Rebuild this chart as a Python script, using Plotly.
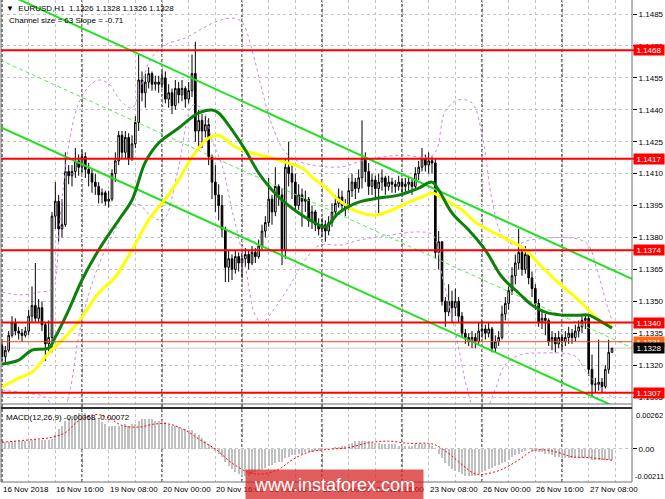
import plotly.graph_objects as go

W, H = 665, 499

def xd(px):
    return px / W

def yd(py):
    return 1 - py / H

# ---------------- data ----------------
bars = list(range(184))
first_open = 1.1329
closes = [1.1324,1.1327,1.1334,1.1340,1.1336,1.1335,1.1334,1.1336,1.1343,1.1348,1.1342,1.1347,1.1339,1.1330,1.1333,1.1390,
          1.1397,1.1384,1.1386,1.1411,1.1409,1.1411,1.1416,1.1413,1.1418,1.1412,1.1410,1.1406,1.1404,1.1400,1.1401,1.1397,
          1.1398,1.1410,1.1416,1.1428,1.1420,1.1427,1.1417,1.1424,1.1434,1.1454,1.1448,1.1453,1.1457,1.1452,1.1453,1.1452,
          1.1455,1.1445,1.1448,1.1442,1.1450,1.1447,1.1450,1.1445,1.1449,1.1457,1.1430,1.1435,1.1430,1.1433,1.1418,1.1406,
          1.1400,1.1395,1.1384,1.1366,1.1370,1.1365,1.1371,1.1368,1.1370,1.1372,1.1368,1.1373,1.1371,1.1376,1.1383,1.1387,
          1.1398,1.1392,1.1404,1.1400,1.1374,1.1413,1.1410,1.1406,1.1395,1.1400,1.1397,1.1398,1.1388,1.1392,1.1386,1.1384,
          1.1386,1.1383,1.1387,1.1392,1.1396,1.1399,1.1395,1.1394,1.1402,1.1406,1.1403,1.1408,1.1417,1.1411,1.1404,1.1407,
          1.1403,1.1406,1.1408,1.1404,1.1406,1.1405,1.1404,1.1406,1.1404,1.1405,1.1406,1.1404,1.1410,1.1413,1.1417,1.1414,
          1.1416,1.1415,1.1373,1.1378,1.1350,1.1345,1.1350,1.1347,1.1350,1.1343,1.1335,1.1333,1.1331,1.1333,1.1331,1.1336,
          1.1337,1.1335,1.1337,1.1328,1.1331,1.1333,1.1344,1.1349,1.1355,1.1362,1.1368,1.1373,1.1365,1.1372,1.1361,1.1356,
          1.1349,1.1340,1.1342,1.1341,1.1331,1.1333,1.1330,1.1333,1.1331,1.1333,1.1335,1.1333,1.1336,1.1338,1.1341,1.1342,
          1.1318,1.1311,1.1311,1.1312,1.1310,1.1318,1.1326,1.1328]
highs = [1.1331,1.1329,1.1336,1.1343,1.1342,1.1338,1.1337,1.1338,1.1346,1.1357,1.1368,1.1351,1.1350,1.1340,1.1341,1.1392,
         1.1406,1.1400,1.1398,1.1420,1.1414,1.1414,1.1422,1.1419,1.1421,1.1420,1.1415,1.1412,1.1410,1.1406,1.1403,1.1402,
         1.1402,1.1412,1.1420,1.1430,1.1430,1.1430,1.1429,1.1428,1.1437,1.1466,1.1458,1.1457,1.1460,1.1458,1.1456,1.1456,
         1.1458,1.1458,1.1452,1.1450,1.1454,1.1453,1.1454,1.1451,1.1453,1.1466,1.1472,1.1440,1.1438,1.1437,1.1436,1.1419,
         1.1414,1.1405,1.1400,1.1385,1.1374,1.1372,1.1374,1.1373,1.1373,1.1375,1.1374,1.1376,1.1375,1.1379,1.1386,1.1390,
         1.1408,1.1400,1.1413,1.1405,1.1403,1.1417,1.1425,1.1415,1.1410,1.1405,1.1403,1.1402,1.1399,1.1395,1.1393,1.1389,
         1.1389,1.1388,1.1390,1.1396,1.1400,1.1403,1.1402,1.1398,1.1408,1.1410,1.1408,1.1412,1.1435,1.1420,1.1415,1.1410,
         1.1409,1.1410,1.1412,1.1409,1.1409,1.1408,1.1407,1.1409,1.1408,1.1408,1.1409,1.1408,1.1413,1.1416,1.1422,1.1419,
         1.1420,1.1418,1.1417,1.1383,1.1378,1.1352,1.1358,1.1355,1.1356,1.1352,1.1345,1.1337,1.1335,1.1336,1.1335,1.1340,
         1.1341,1.1339,1.1340,1.1338,1.1334,1.1336,1.1348,1.1352,1.1357,1.1366,1.1372,1.1384,1.1376,1.1376,1.1373,1.1364,
         1.1358,1.1351,1.1345,1.1344,1.1342,1.1336,1.1335,1.1336,1.1334,1.1336,1.1338,1.1337,1.1339,1.1341,1.1343,1.1344,
         1.1344,1.1325,1.1314,1.1332,1.1314,1.1320,1.1332,1.1328]
lows = [1.1322,1.1321,1.1326,1.1333,1.1334,1.1332,1.1331,1.1333,1.1334,1.1340,1.1340,1.1340,1.1336,1.1322,1.1325,1.1326,
        1.1384,1.1378,1.1380,1.1385,1.1405,1.1404,1.1408,1.1409,1.1410,1.1408,1.1404,1.1401,1.1400,1.1396,1.1396,1.1395,
        1.1394,1.1397,1.1406,1.1414,1.1417,1.1417,1.1414,1.1416,1.1422,1.1430,1.1444,1.1441,1.1450,1.1449,1.1449,1.1448,
        1.1450,1.1443,1.1441,1.1438,1.1440,1.1443,1.1444,1.1441,1.1443,1.1446,1.1425,1.1422,1.1422,1.1427,1.1414,1.1398,
        1.1392,1.1388,1.1380,1.1359,1.1359,1.1360,1.1363,1.1364,1.1361,1.1366,1.1365,1.1367,1.1368,1.1370,1.1374,1.1380,
        1.1385,1.1386,1.1390,1.1395,1.1367,1.1370,1.1404,1.1398,1.1392,1.1393,1.1385,1.1392,1.1385,1.1384,1.1383,1.1381,
        1.1380,1.1378,1.1381,1.1385,1.1390,1.1394,1.1392,1.1390,1.1393,1.1399,1.1398,1.1401,1.1403,1.1406,1.1400,1.1400,
        1.1399,1.1391,1.1402,1.1400,1.1402,1.1401,1.1401,1.1402,1.1401,1.1401,1.1402,1.1400,1.1403,1.1407,1.1411,1.1411,
        1.1410,1.1410,1.1370,1.1365,1.1348,1.1338,1.1343,1.1340,1.1343,1.1340,1.1333,1.1330,1.1329,1.1328,1.1328,1.1330,
        1.1333,1.1332,1.1333,1.1326,1.1326,1.1329,1.1332,1.1341,1.1346,1.1353,1.1358,1.1365,1.1362,1.1363,1.1358,1.1352,
        1.1346,1.1338,1.1337,1.1334,1.1329,1.1327,1.1326,1.1328,1.1327,1.1329,1.1330,1.1330,1.1331,1.1333,1.1335,1.1337,
        1.1315,1.1305,1.1307,1.1308,1.1307,1.1309,1.1316,1.1326]

# moving averages (read at sample bars)
ma_green_x = [0,5,9,14,16,20,24,29,35,39,43,47,53,59,63,65,69,73,77,81,85,89,94,97,101,107,113,119,125,129,131,135,140,145,150,155,159,163,168,173,176,180,183]
ma_green_y = [1.13205,1.13224,1.13271,1.13280,1.13332,1.13459,1.13600,1.13741,1.13882,1.13976,1.14154,1.14244,1.14314,1.14385,1.14399,1.14385,
              1.14305,1.14211,1.14103,1.14023,1.13962,1.13915,1.13868,1.13849,1.13915,1.13966,1.13985,1.13999,1.14032,1.14060,1.14023,1.13915,
              1.13835,1.13741,1.13614,1.13539,1.13482,1.13449,1.13435,1.13435,1.13435,1.13402,1.13374]
ma_yellow_x = [0,5,9,14,19,24,29,34,39,44,49,53,57,62,65,70,75,80,85,90,94,97,101,107,112,117,122,126,129,133,138,142,146,152,157,162,167,172,176,180,183]
ma_yellow_y = [1.13097,1.13139,1.13167,1.13257,1.13332,1.13426,1.13539,1.13614,1.13741,1.13882,1.13980,1.14070,1.14178,1.14267,1.14280,1.14225,
               1.14197,1.14178,1.14154,1.14126,1.14070,1.14037,1.13976,1.13919,1.13905,1.13929,1.13966,1.13990,1.14009,1.13976,1.13929,1.13872,
               1.13835,1.13788,1.13741,1.13661,1.13586,1.13520,1.13459,1.13402,1.13388]

# bands (read at sample bars)
band_up_x = [0,5.4,11.4,14.4,15.9,17.4,19.8,22.8,26.4,29.4,32.4,35.4,39,41.4,44.4,48.9,54.9,59.4,63.9,69,72,75,78,81,84.9,89.4,
             101.4,108.9,119.4,129.3,132.9,136.8,141,144.3,147,150,153.9,158.4,174.9,178.5,181.5,183]
band_up_y = [1.13544,1.13530,1.13544,1.13553,1.13600,1.13882,1.14211,1.14422,1.14516,1.14540,1.14516,1.14446,1.14408,1.14493,1.14634,
             1.14704,1.14737,1.14775,1.14812,1.14831,1.14812,1.14681,1.14493,1.14328,1.14202,1.14155,1.14131,1.14164,1.14187,1.14187,
             1.14390,1.14446,1.14432,1.14258,1.13976,1.13811,1.13764,1.13788,1.13779,1.13647,1.13482,1.13412]
band_lo_x = [0,6.9,12.9,15.9,18,20.4,22.8,25.5,29.4,33.9,38.4,41.4,44.4,48.3,52.8,57.3,60.3,63,66,69,72.9,75.9,78,81,86.4,90.9,
             95.4,101.4,107.4,116.4,125.4,129.3,132,135.9,139.5,141.9,144.9,147.9,150.9,155.4,161.4,171.9,174.9,179.4,183]
band_lo_y = [1.13083,1.13069,1.13050,1.12989,1.12966,1.13083,1.13318,1.13506,1.13685,1.13835,1.13952,1.13952,1.13905,1.13882,1.14117,
             1.14422,1.14399,1.14258,1.14140,1.13929,1.13670,1.13436,1.13398,1.13450,1.13576,1.13694,1.13764,1.13764,1.13788,1.13811,
             1.13826,1.13811,1.13623,1.13365,1.13093,1.12989,1.12989,1.13083,1.13201,1.13248,1.13257,1.13243,1.13177,1.13097,1.13050]

# regression channel (end points)
chan_x = [-0.6, 189.0]
chan_upper = [1.14959, 1.13605]
chan_mid = [1.14634, 1.13282]
chan_lower = [1.14319, 1.12968]

# horizontal levels
levels = [1.1468, 1.1417, 1.1374, 1.1340, 1.1307]
ask_price = 1.1331
bid_price = 1.1328

# MACD
macd_hist = [0.00043,0.00045,0.00046,0.00048,0.00050,0.00050,0.00051,0.00052,0.00053,0.00055,0.00056,0.00058,0.00058,0.00056,0.00058,0.00065,
             0.0009,0.0013,0.0015,0.0018,0.0020,0.0021,0.0022,0.0023,0.0023,0.0023,0.0022,0.0021,0.0020,0.0019,0.0017,0.0016,
             0.0015,0.0015,0.0015,0.0015,0.0015,0.0016,0.0015,0.0016,0.0016,0.0018,0.0019,0.0019,0.0019,0.0019,0.0018,0.0018,
             0.0018,0.0017,0.0016,0.0015,0.0015,0.0014,0.0013,0.0013,0.0012,0.0012,0.0010,0.0009,0.0007,0.0005,0.0003,0.0001,
             -0.0001,-0.0003,-0.0005,-0.0008,-0.0011,-0.0013,-0.0015,-0.0016,-0.0017,-0.0017,-0.0017,-0.0016,-0.0015,-0.0014,-0.0013,-0.0012,
             -0.0011,-0.0010,-0.0009,-0.0008,-0.0008,-0.0006,-0.0005,-0.0004,-0.0004,-0.0003,-0.0003,-0.0002,-0.0002,-0.0002,-0.0001,-0.0001,
             -0.0001,0.0000,0.0000,0.0000,0.0001,0.0001,0.0002,0.0002,0.0003,0.0004,0.0005,0.0005,0.0005,0.0005,0.0005,0.0004,
             0.0004,0.0004,0.0003,0.0003,0.0003,0.0003,0.0003,0.0002,0.0002,0.0002,0.0002,0.0002,0.0003,0.0003,0.0003,0.0003,
             0.0003,0.0002,0.0000,-0.0003,-0.0006,-0.0009,-0.0011,-0.0013,-0.0014,-0.0015,-0.0016,-0.0017,-0.0017,-0.0017,-0.0017,-0.0016,
             -0.0015,-0.0014,-0.0013,-0.0012,-0.0011,-0.0010,-0.0009,-0.0008,-0.0007,-0.0005,-0.0004,-0.0003,-0.0002,-0.0001,0.0000,-0.0001,
             -0.0001,-0.0002,-0.0002,-0.0003,-0.0003,-0.0004,-0.0005,-0.0005,-0.0006,-0.0006,-0.0006,-0.0006,-0.0006,-0.0006,-0.0006,-0.0006,
             -0.0006,-0.0007,-0.0007,-0.0007,-0.0007,-0.0007,-0.0007,-0.00068]
signal_x = [0,9,15,19,23,28,32,36,41,46,50,55,60,64,69,74,78,83,87,92,97,104,110,116,122,128,130,134,138,142,145,150,155,159,163,167,171,176,181,183]
signal_y = [0.00043,0.00060,0.00075,0.00105,0.0018,0.0022,0.0020,0.0015,0.0014,0.0016,0.0016,0.0012,0.0005,0.0000,-0.0009,-0.0015,-0.0016,-0.0013,-0.0007,-0.0002,
            -0.00004,0.00009,0.0004,0.0005,0.00036,0.00036,0.00026,-0.00028,-0.0010,-0.0016,-0.0016,-0.0013,-0.0007,-0.00013,-0.00006,-0.00023,-0.0005,-0.00055,-0.00066,-0.00072]

price_ticks_step = 0.0015
xlabel_bars = [0,16,32,48,64,80,96,112,128,144,160,176]
xlabel_text = ["16 Nov 2018","16 Nov 16:00","19 Nov 08:00","20 Nov 00:00","20 Nov 16:00","21 Nov 08:00",
               "22 Nov 00:00","22 Nov 16:00","23 Nov 08:00","26 Nov 00:00","26 Nov 16:00","27 Nov 08:00"]
day_sep_bars = [0,24,48,72,96,120,144,168]
grid_bars = list(range(0, 189, 8))

# -------------- figure --------------
opens = [first_open] + closes[:-1]
highs = [max(h, o, c) for h, o, c in zip(highs, opens, closes)]
lows = [min(l, o, c) for l, o, c in zip(lows, opens, closes)]

FONT = "Liberation Sans, Arial, DejaVu Sans"
X0, X1 = 1, 632
MAIN_TOP, MAIN_BOT = 0, 404
M_TOP, M_BOT = 408, 482
XR = [-0.3, 189.0]

def p_of_y(py):
    return 1.1485 - (py - 14) * 0.00004699

fig = go.Figure()

fig.add_trace(go.Candlestick(
    x=bars, open=opens, high=highs, low=lows, close=closes,
    increasing=dict(line=dict(color="#000000", width=1), fillcolor="#ffffff"),
    decreasing=dict(line=dict(color="#000000", width=1), fillcolor="#000000"),
    whiskerwidth=0, showlegend=False, hoverinfo="skip", xaxis="x", yaxis="y"))

band_line = dict(color="#c88ae8", width=1, dash="3px,3px")
fig.add_trace(go.Scatter(x=band_up_x, y=band_up_y, mode="lines", line_shape="spline", line=band_line,
                         showlegend=False, xaxis="x", yaxis="y"))
fig.add_trace(go.Scatter(x=band_lo_x, y=band_lo_y, mode="lines", line_shape="spline", line=band_line,
                         showlegend=False, xaxis="x", yaxis="y"))

fig.add_trace(go.Scatter(x=chan_x, y=chan_mid, mode="lines",
                         line=dict(color="#55ee55", width=1, dash="4px,3px"), showlegend=False, xaxis="x", yaxis="y"))
fig.add_trace(go.Scatter(x=chan_x, y=chan_upper, mode="lines",
                         line=dict(color="#22e022", width=2), showlegend=False, xaxis="x", yaxis="y"))
fig.add_trace(go.Scatter(x=chan_x, y=chan_lower, mode="lines",
                         line=dict(color="#22e022", width=2), showlegend=False, xaxis="x", yaxis="y"))

fig.add_trace(go.Scatter(x=ma_yellow_x, y=ma_yellow_y, mode="lines", line_shape="spline",
                         line=dict(color="#ffff00", width=3), showlegend=False, xaxis="x", yaxis="y"))
fig.add_trace(go.Scatter(x=ma_green_x, y=ma_green_y, mode="lines", line_shape="spline",
                         line=dict(color="#0b800b", width=3), showlegend=False, xaxis="x", yaxis="y"))

fig.add_trace(go.Bar(x=bars, y=macd_hist, marker=dict(color="#c0c0c0", line=dict(width=0)),
                     width=0.6, showlegend=False, xaxis="x2", yaxis="y2"))
fig.add_trace(go.Scatter(x=signal_x, y=signal_y, mode="lines", line_shape="spline",
                         line=dict(color="#ff0000", width=1, dash="2px,2px"), showlegend=False, xaxis="x2", yaxis="y2"))

shapes = []
for lv in levels:
    shapes.append(dict(type="line", xref="paper", yref="y", x0=xd(X0), x1=xd(X1 + 3), y0=lv, y1=lv,
                       line=dict(color="#ff0000", width=2), layer="above"))
shapes.append(dict(type="line", xref="paper", yref="y", x0=xd(X0), x1=xd(X1), y0=ask_price, y1=ask_price,
                   line=dict(color="#ff4010", width=1), layer="above"))
shapes.append(dict(type="line", xref="paper", yref="y", x0=xd(X0), x1=xd(X1), y0=bid_price, y1=bid_price,
                   line=dict(color="#c8c8c8", width=1), layer="below"))
for b in day_sep_bars:
    shapes.append(dict(type="line", xref="x", yref="paper", x0=b, x1=b, y0=yd(M_BOT), y1=yd(MAIN_TOP),
                       line=dict(color="#000000", width=1, dash="3px,2px"), layer="below"))
frame = dict(color="#707070", width=1)
shapes.append(dict(type="line", xref="paper", yref="paper", x0=xd(X0), x1=xd(X0), y0=yd(M_BOT), y1=yd(0), line=frame))
shapes.append(dict(type="line", xref="paper", yref="paper", x0=xd(X1), x1=xd(X1), y0=yd(M_BOT), y1=yd(0), line=frame))
shapes.append(dict(type="line", xref="paper", yref="paper", x0=xd(X0), x1=xd(X1), y0=yd(MAIN_BOT), y1=yd(MAIN_BOT), line=frame))
shapes.append(dict(type="line", xref="paper", yref="paper", x0=xd(X0), x1=xd(X1), y0=yd(M_TOP), y1=yd(M_TOP),
                   line=dict(color="#303030", width=2)))
shapes.append(dict(type="line", xref="paper", yref="paper", x0=xd(X0), x1=xd(X1), y0=yd(M_BOT), y1=yd(M_BOT), line=frame))

annotations = []
af = dict(family=FONT, size=8, color="#000000")
annotations.append(dict(xref="paper", yref="paper", x=xd(4), y=yd(8), xanchor="left", yanchor="middle",
                        text="▼  EURUSD,H1  1.1326 1.1328 1.1326 1.1328", showarrow=False, font=af))
annotations.append(dict(xref="paper", yref="paper", x=xd(7), y=yd(20), xanchor="left", yanchor="middle",
                        text="Channel size = 63 Slope = -0.71", showarrow=False, font=af))
annotations.append(dict(xref="paper", yref="paper", x=xd(4), y=yd(417), xanchor="left", yanchor="middle",
                        text="MACD(12,26,9) -0.00068 -0.00072", showarrow=False, font=af))
annotations.append(dict(xref="paper", yref="paper", x=xd(634), y=yd(415), xanchor="left", yanchor="middle",
                        text="0.00262", showarrow=False, font=dict(family=FONT, size=7.5, color="#000000")))
annotations.append(dict(xref="paper", yref="paper", x=xd(633), y=yd(476), xanchor="left", yanchor="middle",
                        text="-0.00211", showarrow=False, font=dict(family=FONT, size=7.5, color="#000000")))
for b, t in zip(xlabel_bars, xlabel_text):
    annotations.append(dict(xref="x2", yref="paper", x=b, y=yd(489), xanchor="left", yanchor="middle",
                            xshift=-1, text=t, showarrow=False, font=af))
lf = dict(family=FONT, size=8, color="#ffffff")
for lv in levels:
    annotations.append(dict(xref="paper", yref="y", x=xd(X1 + 1), y=lv, xanchor="left", yanchor="middle",
                            text=f"{lv:.4f}", showarrow=False, font=lf, bgcolor="#ff0000",
                            width=30, height=10, borderpad=0, align="center"))
annotations.append(dict(xref="paper", yref="y", x=xd(X1 + 1), y=ask_price, xanchor="left", yanchor="middle",
                        text=f"{ask_price:.4f}", showarrow=False, font=lf, bgcolor="#ff6a1a",
                        width=30, height=10, borderpad=0, align="center"))
annotations.append(dict(xref="paper", yref="y", x=xd(X1 + 1), y=bid_price, xanchor="left", yanchor="middle",
                        text=f"{bid_price:.4f}", showarrow=False, font=lf, bgcolor="#000000",
                        width=30, height=10, borderpad=0, align="center"))
annotations.append(dict(xref="paper", yref="paper", x=xd(245), y=yd(469), xanchor="left", yanchor="top",
                        text="www.instaforex.com", showarrow=False,
                        font=dict(family=FONT, size=18, color="#ffffff"),
                        bgcolor="rgba(214,30,30,0.72)", width=177, height=30, borderpad=0, align="center"))

grid = dict(showgrid=True, gridcolor="#c4c4c4", griddash="3px,3px", gridwidth=1)

fig.update_layout(
    width=W, height=H, margin=dict(l=0, r=0, t=0, b=0),
    paper_bgcolor="#ffffff", plot_bgcolor="#ffffff",
    showlegend=False, hovermode=False, bargap=0,
    shapes=shapes, annotations=annotations,
    xaxis=dict(domain=[xd(X0), xd(X1)], range=XR, anchor="y", tickmode="array", tickvals=grid_bars,
               showticklabels=False, ticks="", zeroline=False, rangeslider=dict(visible=False), **grid),
    xaxis2=dict(domain=[xd(X0), xd(X1)], range=XR, anchor="y2", matches="x", tickmode="array", tickvals=grid_bars,
                ticktext=[""] * len(grid_bars), ticks="", zeroline=False, **grid),
    yaxis=dict(domain=[yd(MAIN_BOT), yd(MAIN_TOP)], range=[p_of_y(MAIN_BOT), p_of_y(MAIN_TOP)], side="right",
               anchor="x", tick0=1.1305, dtick=price_ticks_step, tickformat=".4f", ticks="outside", ticklen=4,
               tickcolor="#000000", tickfont=af, zeroline=False, **grid),
    yaxis2=dict(domain=[yd(M_BOT), yd(M_TOP)], range=[-0.00211, 0.00262], side="right", anchor="x2",
                tickmode="array", tickvals=[0], ticktext=["0.00"], ticks="outside", ticklen=4,
                tickcolor="#000000", tickfont=af, zeroline=False, **grid),
)

fig.write_html("out.html", config={"displayModeBar": False},
               post_script="document.body.style.margin='0';document.body.style.overflow='hidden';")
